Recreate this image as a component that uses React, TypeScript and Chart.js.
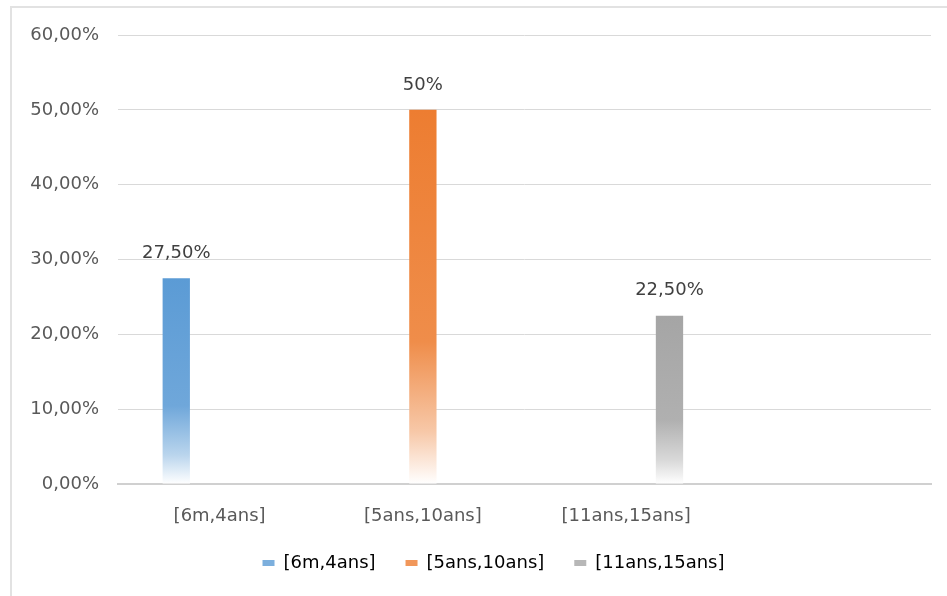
import { useEffect, useRef } from "react";
import { Chart, registerables } from "chart.js";

Chart.register(...registerables);

// Age groups on the category axis (the fourth slot is left empty)
const categories = ["[6m,4ans]", "[5ans,10ans]", "[11ans,15ans]", ""];
// One series per age group
const seriesNames = ["[6m,4ans]", "[5ans,10ans]", "[11ans,15ans]"];
const seriesValues = [27.5, 50, 22.5];
const seriesColors = ["#5B9BD5", "#ED7D31", "#A5A5A5"];
// Value axis
const yMin = 0;
const yMax = 60;
const yStep = 10;

const FONT_FAMILY = "'DejaVu Sans', sans-serif";
const FONT_SIZE = 18;

function formatPercent(v: number, decimals: number): string {
  return v.toFixed(decimals).replace(".", ",") + "%";
}

function valueLabel(v: number): string {
  return Number.isInteger(v) ? `${v}%` : formatPercent(v, 2);
}

// Blend a hex colour toward white by t (0..1)
function tint(hex: string, t: number): string {
  const n = parseInt(hex.slice(1), 16);
  const r = (n >> 16) & 255;
  const g = (n >> 8) & 255;
  const b = n & 255;
  const f = (c: number) => Math.round(c + (255 - c) * t);
  return `rgb(${f(r)}, ${f(g)}, ${f(b)})`;
}

// Each series only holds a value in its own category
function seriesData(i: number): (number | null)[] {
  return categories.map((_, j) => (j === i ? seriesValues[i] : null));
}

// Vertical fade from the full colour at the top of a bar to white at its base
function barFill(color: string) {
  return (ctx: any) => {
    const chart = ctx.chart;
    const y = chart.scales?.y;
    const v = ctx.raw as number | null;
    if (!chart.chartArea || v == null || !y) return color;
    const top = y.getPixelForValue(v);
    const base = y.getPixelForValue(0);
    const g = chart.ctx.createLinearGradient(0, top, 0, base);
    g.addColorStop(0, color);
    g.addColorStop(0.62, tint(color, 0.12));
    g.addColorStop(0.86, tint(color, 0.58));
    g.addColorStop(1, "#ffffff");
    return g;
  };
}

const valueLabelPlugin = {
  id: "valueLabels",
  afterDatasetsDraw(chart: any) {
    const c = chart.ctx as CanvasRenderingContext2D;
    c.save();
    c.font = `${FONT_SIZE}px ${FONT_FAMILY}`;
    c.fillStyle = "#404040";
    c.textAlign = "center";
    c.textBaseline = "middle";
    chart.data.datasets.forEach((ds: any, di: number) => {
      const meta = chart.getDatasetMeta(di);
      meta.data.forEach((el: any, i: number) => {
        const v = ds.data[i];
        if (v == null) return;
        const { x, y } = el.getProps(["x", "y"], true);
        c.fillText(valueLabel(v), x, y - 25);
      });
    });
    c.restore();
  },
};

// Centre the legend under the span from x=56 to the right edge of the plot
const legendSpanPlugin = {
  id: "legendSpan",
  afterLayout(chart: any) {
    const legend = chart.legend;
    if (!legend) return;
    legend.left = 56;
    legend.right = chart.chartArea.right;
  },
};

export default function App() {
  const canvasRef = useRef<HTMLCanvasElement | null>(null);

  useEffect(() => {
    if (!canvasRef.current) return;
    const chart = new Chart(canvasRef.current, {
      type: "bar",
      data: {
        labels: categories,
        datasets: seriesNames.map((name, i) => ({
          label: name,
          data: seriesData(i),
          backgroundColor: barFill(seriesColors[i]),
          borderWidth: 0,
          categoryPercentage: 0.64,
          barPercentage: 0.63,
        })),
      },
      options: {
        responsive: false,
        animation: false,
        devicePixelRatio: 1,
        layout: { padding: { left: 10, right: 16, top: 35, bottom: 14 } },
        plugins: {
          tooltip: { enabled: false },
          legend: {
            position: "bottom",
            labels: {
              boxWidth: 12,
              boxHeight: 6,
              padding: 30,
              color: "#595959",
              font: { family: FONT_FAMILY, size: FONT_SIZE },
              generateLabels: () =>
                seriesNames.map((name, i) => ({
                  text: name,
                  fillStyle: tint(seriesColors[i], 0.2),
                  strokeStyle: tint(seriesColors[i], 0.2),
                  lineWidth: 0,
                  hidden: false,
                  datasetIndex: i,
                })),
            },
          },
        },
        scales: {
          x: {
            grid: { display: false, drawTicks: false },
            border: { display: true, color: "#d0d0d0", width: 2 },
            ticks: {
              color: "#595959",
              padding: 22,
              maxRotation: 0,
              font: { family: FONT_FAMILY, size: FONT_SIZE },
            },
            afterFit: (scale: any) => {
              scale.height = 40;
            },
          },
          y: {
            min: yMin,
            max: yMax,
            grid: { color: "#d9d9d9", lineWidth: 1, drawTicks: false },
            border: { display: false },
            ticks: {
              stepSize: yStep,
              color: "#595959",
              padding: 19,
              font: { family: FONT_FAMILY, size: FONT_SIZE },
              callback: (value: any) => formatPercent(Number(value), 2),
            },
            afterFit: (scale: any) => {
              scale.width = 108;
            },
          },
        },
      },
      plugins: [valueLabelPlugin, legendSpanPlugin],
    });
    return () => chart.destroy();
  }, []);

  return (
    <div
      style={{
        position: "absolute",
        left: 0,
        top: 0,
        width: 947,
        height: 596,
        overflow: "hidden",
        background: "#ffffff",
      }}
    >
      <div
        style={{
          position: "absolute",
          left: 10,
          top: 6,
          width: 1000,
          height: 700,
          border: "2px solid #e2e2e2",
        }}
      />
      <canvas
        ref={canvasRef}
        width={947}
        height={596}
        style={{ position: "absolute", left: 0, top: 0, width: 947, height: 596 }}
      />
    </div>
  );
}
